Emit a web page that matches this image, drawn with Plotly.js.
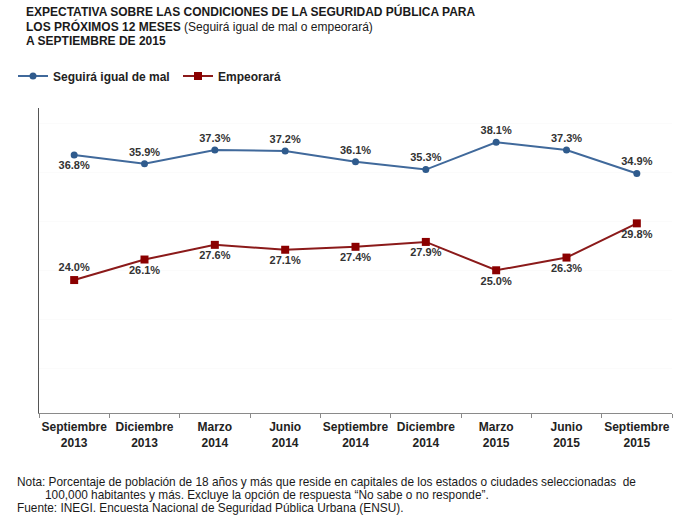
<!DOCTYPE html>
<html>
<head>
<meta charset="utf-8">
<script src="https://cdn.plot.ly/plotly-3.0.1.min.js"></script>
<style>html,body{margin:0;padding:0;background:#fff;}#chart{width:700px;height:525px;}</style>
</head>
<body>
<div id="chart"></div>
<script>
var categories = ["Septiembre 2013", "Diciembre 2013", "Marzo 2014", "Junio 2014", "Septiembre 2014", "Diciembre 2014", "Marzo 2015", "Junio 2015", "Septiembre 2015"];
var tickLabels = ["Septiembre<br>2013", "Diciembre<br>2013", "Marzo<br>2014", "Junio<br>2014", "Septiembre<br>2014", "Diciembre<br>2014", "Marzo<br>2015", "Junio<br>2015", "Septiembre<br>2015"];
var seguiraIgualDeMal = [36.8, 35.9, 37.3, 37.2, 36.1, 35.3, 38.1, 37.3, 34.9];
var empeorara = [24.0, 26.1, 27.6, 27.1, 27.4, 27.9, 25.0, 26.3, 29.8];

var bluePos = ["bottom center", "top center", "top center", "top center", "top center", "top center", "top center", "top center", "top center"];
var redPos = ["top center", "bottom center", "bottom center", "bottom center", "bottom center", "bottom center", "bottom center", "bottom center", "bottom center"];

var F = "Arial, 'Liberation Sans', sans-serif";
var L = 39, T = 108, W = 633, H = 305;
function px(x){ return (x - L) / W; }
function py(y){ return (T + H - y) / H; }

var traces = [
  {
    x: categories, y: seguiraIgualDeMal, name: "Seguirá igual de mal",
    type: "scatter", mode: "lines+markers+text",
    line: {color: "#40699b", width: 2},
    marker: {symbol: "circle", size: 7, color: "#2f5b8d"},
    texttemplate: "%{y:.1f}%", textposition: bluePos,
    textfont: {family: F, size: 11, color: "#333333", weight: "bold"},
    hoverinfo: "skip", cliponaxis: false
  },
  {
    x: categories, y: empeorara, name: "Empeorará",
    type: "scatter", mode: "lines+markers+text",
    line: {color: "#8b1a1a", width: 2},
    marker: {symbol: "square", size: 8, color: "#8b0000"},
    texttemplate: "%{y:.1f}%", textposition: redPos,
    textfont: {family: F, size: 11, color: "#333333", weight: "bold"},
    hoverinfo: "skip", cliponaxis: false
  }
];

function note(x, y, text, size){
  return {xref: "paper", yref: "paper", x: px(x), y: py(y), xanchor: "left", yanchor: "middle",
          showarrow: false, text: text, align: "left",
          font: {family: F, size: size, color: "#1a1a1a"}};
}

var layout = {
  width: 700, height: 525,
  margin: {l: L, r: 700 - L - W, t: T, b: 525 - T - H, pad: 0},
  paper_bgcolor: "#ffffff", plot_bgcolor: "#ffffff",
  font: {family: F, size: 12, color: "#222222"},
  showlegend: true,
  legend: {
    orientation: "h", x: px(13), xanchor: "left", y: py(76), yanchor: "middle",
    font: {family: F, size: 12, color: "#222222", weight: "bold"},
    itemwidth: 30, entrywidth: 120, entrywidthmode: "pixels",
    bgcolor: "rgba(0,0,0,0)", borderwidth: 0
  },
  xaxis: {
    type: "category", tickmode: "array", tickvals: categories, ticktext: tickLabels,
    tickangle: 0, ticklabelstandoff: 3,
    showline: true, linecolor: "#8a8a8a", linewidth: 1,
    ticks: "outside", tickson: "boundaries", ticklen: 4, tickcolor: "#8a8a8a",
    showgrid: false, zeroline: false,
    tickfont: {family: F, size: 12, color: "#222222", weight: "bold"},
    range: [-0.5, 8.5], fixedrange: true
  },
  yaxis: {
    range: [10.4, 41.6], showline: true, linecolor: "#555555", linewidth: 1,
    showticklabels: false, ticks: "", showgrid: true, gridcolor: "#fbfbfb", dtick: 5,
    zeroline: false, fixedrange: true
  },
  annotations: [
    note(24, 12, "<b>EXPECTATIVA SOBRE LAS CONDICIONES DE LA SEGURIDAD PÚBLICA PARA</b>", 12),
    note(24, 27, "<b>LOS PRÓXIMOS 12 MESES</b> (Seguirá igual de mal o empeorará)", 12),
    note(24, 41, "<b>A SEPTIEMBRE DE 2015</b>", 12),
    note(15, 482, "Nota: Porcentaje de población de 18 años y más que reside en capitales de los estados o ciudades seleccionadas  de", 11.85),
    note(43, 495, "100,000 habitantes y más. Excluye la opción de respuesta “No sabe o no responde”.", 11.85),
    note(15, 508, "Fuente: INEGI. Encuesta Nacional de Seguridad Pública Urbana (ENSU).", 11.85)
  ]
};

Plotly.newPlot("chart", traces, layout, {displayModeBar: false, staticPlot: true});
</script>
</body>
</html>
